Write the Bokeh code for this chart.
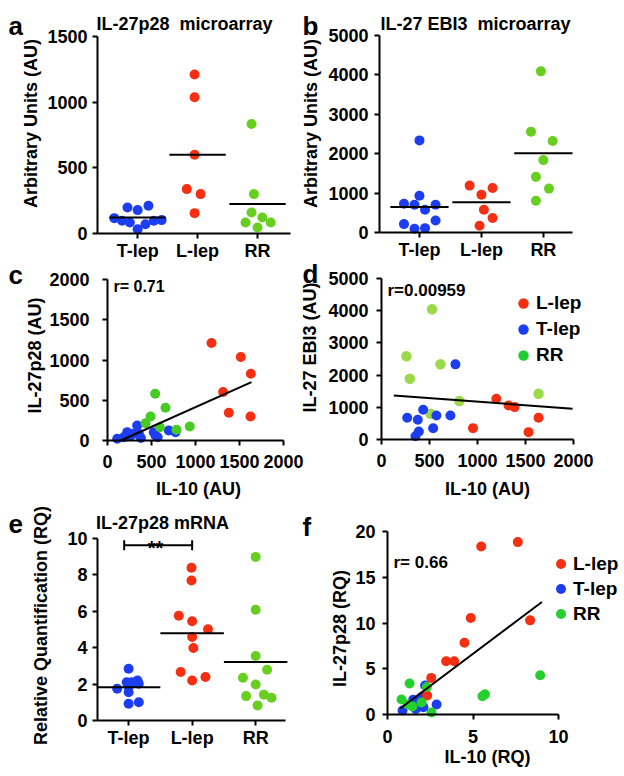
import numpy as np
from bokeh.plotting import figure
from bokeh.models import Label, Range1d, FixedTicker, Legend, LegendItem, LinearAxis
from bokeh.embed import file_html
from bokeh.resources import INLINE

FONT = "Liberation Sans"
RED = "#f42f12"
BLUE = "#1d3ef0"
GREEN_A = "#68cf20"
GREEN_C = "#44cc22"
GREEN_D = "#9bd84a"
GREEN_LEG = "#22cc33"
GREEN_F = "#26d02c"

categories = ["T-lep", "L-lep", "RR"]
cat_pos = [1, 2, 3]

# ---- panel a : IL-27p28 microarray (AU)
a_tlep = [198, 178, 211, 117, 97, 84, 33, 71, 97, 102]
a_tlep_dx = [-0.17, 0.0, 0.18, -0.39, -0.26, -0.13, 0.0, 0.13, 0.27, 0.40]
a_llep = [1210, 1037, 600, 338, 300, 155]
a_llep_dx = [-0.05, -0.05, -0.05, -0.18, 0.05, -0.05]
a_rr = [834, 300, 160, 122, 84, 84, 46]
a_rr_dx = [-0.10, -0.06, -0.10, 0.08, -0.20, 0.22, 0.0]
a_means = [122, 600, 224]

# ---- panel b : IL-27 EBI3 microarray (AU)
b_tlep = [2338, 935, 731, 706, 706, 578, 306, 213, 94, 111]
b_tlep_dx = [0.0, 0.0, -0.25, -0.08, 0.26, 0.09, 0.26, -0.25, -0.08, 0.09]
b_llep = [1190, 1131, 961, 578, 366, 170]
b_llep_dx = [-0.19, 0.18, 0.0, 0.04, 0.18, -0.03]
b_rr = [4090, 2560, 2321, 1837, 1412, 1114, 808]
b_rr_dx = [-0.04, -0.20, 0.15, 0.0, -0.12, 0.09, -0.12]
b_means = [650, 765, 2010]

# ---- panel c : IL-27p28 vs IL-10 (AU)
c_red_x = [1182, 1515, 1629, 1314, 1379, 1625]
c_red_y = [1212, 1037, 830, 602, 344, 298]
c_green_x = [542, 659, 489, 432, 595, 784, 935]
c_green_y = [581, 406, 298, 215, 165, 133, 174]
c_blue_x = [110, 185, 224, 260, 299, 337, 356, 380, 526, 545, 570, 697, 773]
c_blue_y = [21, 41, 104, 60, 83, 186, 83, 30, 104, 62, 40, 124, 104]
c_fit = {"slope": 0.489, "intercept": -74.0, "x": [152, 1636]}
c_r = "r= 0.71"

# ---- panel d : IL-27 EBI3 vs IL-10 (AU)
d_green_x = [527, 260, 295, 614, 811, 1636, 510]
d_green_y = [4046, 2583, 1888, 2334, 1193, 1421, 799]
d_blue_x = [770, 434, 268, 378, 572, 718, 538, 389, 354]
d_blue_y = [2334, 922, 674, 612, 747, 747, 351, 250, 100]
d_red_x = [1196, 1324, 1387, 1636, 953, 1532]
d_red_y = [1266, 1058, 1006, 674, 353, 228]
d_fit = {"slope": -0.2229, "intercept": 1397.5, "x": [128, 1990]}
d_r = "r=0.00959"

# ---- panel e : IL-27p28 mRNA (RQ)
e_tlep = [2.84, 2.10, 2.10, 2.20, 2.02, 1.74, 1.85, 1.55, 0.92, 1.00]
e_tlep_dx = [0.0, -0.03, 0.05, 0.14, 0.16, -0.18, 0.0, 0.0, 0.0, 0.16]
e_llep = [8.39, 7.69, 5.76, 5.45, 5.01, 4.59, 3.98, 2.66, 2.20, 2.39]
e_llep_dx = [-0.01, -0.01, -0.21, 0.0, 0.25, 0.0, 0.02, -0.18, 0.0, 0.21]
e_rr = [8.99, 6.09, 3.54, 2.79, 2.35, 1.98, 1.34, 1.41, 1.25, 0.83]
e_rr_dx = [0.0, 0.0, 0.0, 0.18, -0.20, 0.0, -0.15, 0.13, 0.25, 0.03]
e_means = [1.83, 4.80, 3.21]
e_sig = {"from": 1, "to": 2, "y": 9.63, "cap": 0.27, "text": "**"}

# ---- panel f : IL-27p28 vs IL-10 (RQ)
f_red_x = [7.62, 5.48, 4.87, 8.34, 4.50, 3.43, 3.90, 2.56, 2.32]
f_red_y = [18.84, 18.36, 10.55, 10.29, 7.85, 5.82, 5.82, 4.00, 2.08]
f_blue_x = [0.88, 1.50, 1.90, 1.75, 2.10, 2.87, 2.20, 1.45, 1.65, 2.00]
f_blue_y = [0.44, 1.60, 1.30, 0.77, 0.80, 1.10, 3.17, 1.20, 0.60, 1.90]
f_green_x = [1.29, 0.82, 1.99, 1.46, 2.57, 2.30, 5.55, 5.70, 8.93, 1.20]
f_green_y = [3.39, 1.64, 1.31, 0.87, 0.22, 3.00, 2.00, 2.20, 4.29, 1.10]
f_fit = {"slope": 1.404, "intercept": -0.39, "x": [0.74, 9.03]}
f_r = "r= 0.66"

# ------------------------------------------------------------------
# One canvas; its default ranges are page pixels (y downward), so the
# annotations sit in page coordinates; each panel has its own named ranges
# and its own axes at fixed data locations.
W, H = 622, 770
p = figure(width=W, height=H, min_border=0, x_range=Range1d(0, W), y_range=Range1d(H, 0),
           x_axis_type=None, y_axis_type=None, output_backend="svg",
           toolbar_location=None, tools="")
p.grid.visible = False
p.outline_line_color = None
p.background_fill_color = "white"
p.border_fill_color = "white"


def style_axis(ax, stand, tick_out):
    ax.axis_line_width = 2
    ax.axis_line_color = "black"
    ax.major_tick_line_width = 2
    ax.major_tick_line_color = "black"
    ax.major_tick_in = 0
    ax.major_tick_out = tick_out
    ax.minor_tick_line_color = None
    ax.major_label_text_font = FONT
    ax.major_label_text_font_style = "bold"
    ax.major_label_text_font_size = "18px"
    ax.major_label_text_color = "black"
    ax.major_label_standoff = stand


class Panel:
    def __init__(self, name, xmap, ymap, xticks, yticks, xstand, ystand, xtick_out=5):
        (px0, vx0), (px1, vx1) = xmap
        (py0, vy0), (py1, vy1) = ymap
        self.name = name
        self.sx = (vx1 - vx0) / (px1 - px0)
        self.vx0, self.px0 = vx0, px0
        self.sy = (vy1 - vy0) / (py0 - py1)
        self.vy0, self.py0 = vy0, py0
        p.extra_x_ranges[name] = Range1d(self.vx(0), self.vx(W))
        p.extra_y_ranges[name] = Range1d(self.vy(H), self.vy(0))
        xb = (vx0, vx1)
        yb = (vy0, vy1)
        xa = LinearAxis(x_range_name=name, y_range_name=name, fixed_location=vy0,
                        bounds=xb, ticker=FixedTicker(ticks=xticks))
        ya = LinearAxis(x_range_name=name, y_range_name=name, fixed_location=vx0,
                        bounds=yb, ticker=FixedTicker(ticks=yticks))
        style_axis(xa, xstand, xtick_out)
        style_axis(ya, ystand, 5)
        p.add_layout(xa, "below")
        p.add_layout(ya, "left")
        self.xa, self.ya = xa, ya

    def vx(self, px):
        return self.vx0 + (px - self.px0) * self.sx

    def vy(self, py):
        return self.vy0 + (self.py0 - py) * self.sy

    def kw(self):
        return dict(x_range_name=self.name, y_range_name=self.name)

    def dots(self, x, y, color, size=10):
        return p.scatter(x, y, size=size, fill_color=color, line_color=None, **self.kw())

    def fit(self, fit):
        xs = fit["x"]
        ys = [fit["intercept"] + fit["slope"] * x for x in xs]
        p.line(xs, ys, line_color="black", line_width=2, **self.kw())

    def groups(self, groups, means, hw):
        for (vals, dx, col), c, m in zip(groups, cat_pos, means):
            self.dots([c + d for d in dx], vals, col)
            p.segment(x0=[c - hw], x1=[c + hw], y0=[m], y1=[m], line_color="black",
                      line_width=2, **self.kw())
        self.xa.major_label_overrides = {c: n for c, n in zip(cat_pos, categories)}


def lab(px, py, text, size=18, align="left", baseline="alphabetic", angle=0.0):
    p.add_layout(Label(x=px, y=py, text=text, text_font=FONT, text_font_style="bold",
                       text_font_size=f"{size}px", text_align=align, text_baseline=baseline,
                       angle=angle, angle_units="rad", text_color="black"))


def legend(items, left, top, gsize, font_size):
    loc = (left, H - (top + gsize * len(items)))
    p.add_layout(Legend(
        items=[LegendItem(label=l, renderers=[r]) for l, r in items],
        location=loc, glyph_width=gsize, glyph_height=gsize, label_height=gsize,
        label_standoff=0, spacing=0, padding=0, margin=0,
        border_line_color=None, background_fill_alpha=0,
        label_text_font=FONT, label_text_font_style="bold",
        label_text_font_size=f"{font_size}px", label_text_color="black"))


ROT = np.pi / 2

# ---------------- a
A = Panel("a", ((97, 0.33), (290, 3.55)), ((233, 0), (36, 1500)),
          cat_pos, [0, 500, 1000, 1500], 2, 5)
A.groups([(a_tlep, a_tlep_dx, BLUE), (a_llep, a_llep_dx, RED), (a_rr, a_rr_dx, GREEN_A)],
         a_means, 0.47)
lab(8, 25, "a", 26)
lab(184, 23, "IL-27p28\u00a0 microarray", 18, align="center")
lab(30, 123, "Arbitrary Units (AU)", 18, align="center", baseline="middle", angle=ROT)

# ---------------- b
Bp = Panel("b", ((379, 0.355), (572, 3.47)), ((232, 0), (35, 5000)),
           cat_pos, [0, 1000, 2000, 3000, 4000, 5000], 2, 6)
Bp.groups([(b_tlep, b_tlep_dx, BLUE), (b_llep, b_llep_dx, RED), (b_rr, b_rr_dx, GREEN_A)],
          b_means, 0.47)
lab(302, 25, "b", 26)
lab(475, 23, "IL-27 EBI3\u00a0 microarray", 18, align="center")
lab(310, 123, "Arbitrary Units (AU)", 18, align="center", baseline="middle", angle=ROT)

# ---------------- c
C = Panel("c", ((107, 0), (283, 2000)), ((440, 0), (279, 2000)),
          [0, 500, 1000, 1500, 2000], [0, 500, 1000, 1500, 2000], 9, 13)
C.dots(c_blue_x, c_blue_y, BLUE)
C.dots(c_green_x, c_green_y, GREEN_C)
C.dots(c_red_x, c_red_y, RED)
C.fit(c_fit)
lab(8, 274, "c", 26)
lab(113, 286, c_r, 16)
lab(34, 355, "IL-27p28 (AU)", 18, align="center", baseline="middle", angle=ROT)
lab(198, 488, "IL-10 (AU)", 18, align="center", baseline="middle")

# ---------------- d
D = Panel("d", ((381, 0), (573, 2000)), ((439, 0), (278, 5000)),
          [0, 500, 1000, 1500, 2000], [0, 1000, 2000, 3000, 4000, 5000], 9, 8)
# the RR legend colour differs from the points' colour: the legend renderer lies under them
rleg = D.dots(d_green_x, d_green_y, GREEN_LEG, size=9)
rg = D.dots(d_green_x, d_green_y, GREEN_D, size=10.5)
rb = D.dots(d_blue_x, d_blue_y, BLUE)
rr = D.dots(d_red_x, d_red_y, RED)
D.fit(d_fit)
lab(302, 273, "d", 26)
lab(387, 290, d_r, 17)
lab(309, 347, "IL-27 EBI3 (AU)", 18, align="center", baseline="middle", angle=ROT)
lab(487, 488, "IL-10 (AU)", 18, align="center", baseline="middle")
legend([("L-lep", rr), ("T-lep", rb), ("RR", rleg)], 510, 290, 26, 19)

# ---------------- e
E = Panel("e", ((97, 0.51), (285, 3.47)), ((720, 0), (538, 10)),
          cat_pos, [0, 2, 4, 6, 8, 10], 2, 5)
E.groups([(e_tlep, e_tlep_dx, BLUE), (e_llep, e_llep_dx, RED), (e_rr, e_rr_dx, GREEN_A)],
         e_means, 0.5)
sx0 = e_sig["from"] - 0.07
sx1 = e_sig["to"]
sy = e_sig["y"]
cap = e_sig["cap"]
p.segment(x0=[sx0, sx0, sx1], x1=[sx1, sx0, sx1], y0=[sy, sy - cap, sy - cap],
          y1=[sy, sy + cap, sy + cap], line_color="black", line_width=2, **E.kw())
lab(8, 523, "e", 26)
lab(162, 522, "IL-27p28 mRNA", 18, align="center")
lab(155, 547, e_sig["text"], 20, align="center")
lab(40, 625, "Relative Quantification (RQ)", 18, align="center", baseline="middle", angle=ROT)

# ---------------- f
F = Panel("f", ((387, 0), (558, 10)), ((714, 0), (531, 20)),
          [0, 5, 10], [0, 5, 10, 15, 20], 10, 7)
fb_ = F.dots(f_blue_x, f_blue_y, BLUE)
fr_ = F.dots(f_red_x, f_red_y, RED)
fg_ = F.dots(f_green_x, f_green_y, GREEN_F)
F.fit(f_fit)
lab(302, 526, "f", 26)
lab(393, 562, f_r, 17)
lab(339, 628, "IL-27p28 (RQ)", 18, align="center", baseline="middle", angle=ROT)
lab(487, 756, "IL-10 (RQ)", 18, align="center", baseline="middle")
legend([("L-lep", fr_), ("T-lep", fb_), ("RR", fg_)], 548, 551, 25, 19)

open("out.html", "w").write(file_html(p, INLINE))
